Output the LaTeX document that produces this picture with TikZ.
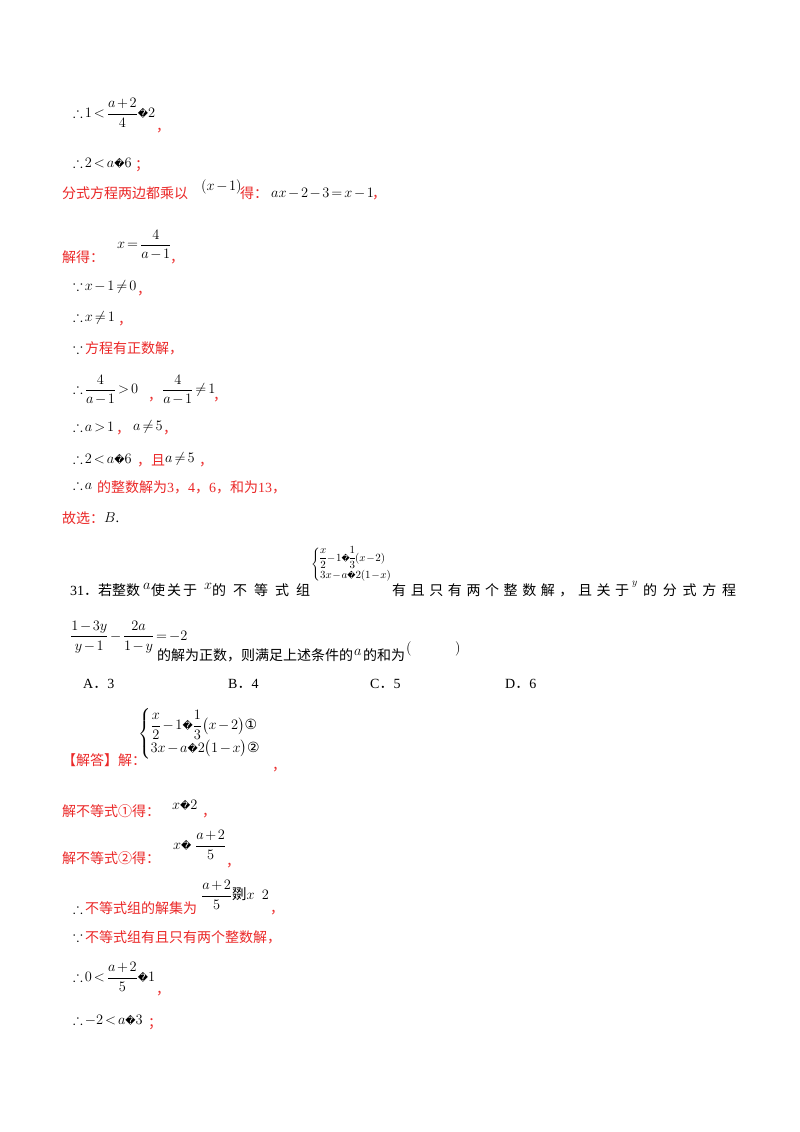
\documentclass[tikz,border=0pt]{standalone}
\usepackage{amsmath,amssymb,graphicx}
\usepackage{fontspec}
\setmainfont{Liberation Serif}
\newfontfamily\cjk{Noto Sans CJK SC}
\newfontfamily\dv{DejaVu Sans}
\definecolor{mred}{RGB}{235,40,40}
\newcommand{\rp}{\text{\dv\fontsize{10}{10}\selectfont �}}
\newcommand{\rps}{\text{\dv\fontsize{8}{8}\selectfont �}}
\newcommand{\cn}[1]{{\cjk #1}}
\newcommand{\spr}[2]{\makebox[#1][s]{#2}}
\newcommand{\tight}{\thinmuskip=1mu\medmuskip=2mu\thickmuskip=2.5mu}
\newcommand{\vtight}{\thinmuskip=0mu\medmuskip=1mu\thickmuskip=1.5mu\nulldelimiterspace=0pt}
\begin{document}
\begin{tikzpicture}[x=1pt,y=-1pt,
  t/.style={anchor=base west,inner sep=0pt,font=\fontsize{14}{16}\selectfont},
  r/.style={t,text=mred},
  m/.style={anchor=west,inner sep=0pt,font=\fontsize{14.5}{16}\selectfont\tight}]
\useasboundingbox (0,0) rectangle (800,1132);
\fill[white] (0,0) rectangle (800,1132);
\node[m] (l1) at (73,113) {$\therefore 1<\dfrac{a+2}{4}\rp 2$};
\node[r] (c1) at (156,131) {\cn{，}};
\node[m] (l2) at (73,163) {$\therefore 2<a\rp 6$};
\node[r] (c2) at (135,169) {\cn{；}};
\node[r] (l3) at (62,198) {\cn{分式方程两边都乘以}};
\node[m] (l3b) at (201,187) {$(x-1)$};
\node[r] (l3c) at (240,198) {\cn{得：}};
\node[m] (l3d) at (271,193) {$ax-2-3=x-1$};
\node[r] (l3e) at (372,198) {\cn{，}};
\node[r] (l4) at (62,262) {\cn{解得：}};
\node[m] (l4b) at (117,245) {$x=\dfrac{4}{a-1}$};
\node[r] (l4c) at (170,262) {\cn{，}};
\node[m] (l5) at (73,287) {$\because x-1\neq 0$};
\node[r] (l5c) at (137,294) {\cn{，}};
\node[m] (l6) at (73,318) {$\therefore x\neq 1$};
\node[r] (l6c) at (118,324) {\cn{，}};
\node[m] (l7) at (73,348) {$\because$};
\node[r] (l7b) at (85,353) {\cn{方程有正数解，}};
\node[m] (l8) at (73,390) {$\therefore \dfrac{4}{a-1}>0$};
\node[r] (l8b) at (148,400) {\cn{，}};
\node[m] (l8c) at (162,390) {$\dfrac{4}{a-1}\neq 1$};
\node[r] (l8d) at (213,400) {\cn{，}};
\node[m] (l9) at (73,427) {$\therefore a>1$};
\node[r] (l9b) at (116,433) {\cn{，}};
\node[m] (l9c) at (133,427) {$a\neq 5$};
\node[r] (l9d) at (163,433) {\cn{，}};
\node[m] (l10) at (73,459) {$\therefore 2<a\rp 6$};
\node[r] (l10b) at (137,465) {\cn{，且}};
\node[m] (l10c) at (165,459) {$a\neq 5$};
\node[r] (l10d) at (199,465) {\cn{，}};
\node[m] (l11) at (73,484) {$\therefore a$};
\node[r] (l11b) at (97,492) {\cn{的整数解为}3\cn{，}4\cn{，}6\cn{，和为}13\cn{，}};
\node[r] (l12) at (62,523) {\cn{故选：}};
\node[m] (l12b) at (104,518) {$B$.};
\node[t] (q1) at (70,595) {31\cn{．}\cn{若整数}};
\node[m] (q1a) at (143,586) {$a$};
\node[t] (q1b) at (151,595) {\cn{\spr{46pt}{使\hfill 关\hfill 于}}};
\node[m] (q1x) at (204,586) {$x$};
\node[t] (q1c) at (212,595) {\cn{\spr{98pt}{的\hfill 不\hfill 等\hfill 式\hfill 组}}};
\node[anchor=west,inner sep=0pt,font=\fontsize{11}{12}\selectfont\vtight] (sys1) at (311,565) {$\begin{cases}\dfrac{x}{2}-1\rps\dfrac{1}{3}(x-2)\\[0pt] 3x-a\rps 2(1-x)\end{cases}$};
\node[t] (q1d) at (392,595) {\cn{\spr{237pt}{有\hfill 且\hfill 只\hfill 有\hfill 两\hfill 个\hfill 整\hfill 数\hfill 解\hfill ，\hfill 且\hfill 关\hfill 于}}};
\node[m] (q1y) at (632,584) {\fontsize{10}{12}\selectfont$y$};
\node[t] (q1e) at (643,595) {\cn{\spr{93pt}{的\hfill 分\hfill 式\hfill 方\hfill 程}}};
\node[m] (q2) at (70,637) {\fontsize{13.5}{15}\selectfont$\dfrac{1-3y}{y-1}-\dfrac{2a}{1-y}=-2$};
\node[t] (q2b) at (157,660) {\cn{的解为正数，则满足上述条件的}};
\node[m] (q2c) at (354,652) {$a$};
\node[t] (q2d) at (363,660) {\cn{的和为}};
\node[m] (q2e) at (406,649) {$(\qquad\quad)$};
\node[t] (oA) at (83,688) {A\cn{．}3};
\node[t] (oB) at (228,688) {B\cn{．}4};
\node[t] (oC) at (370,688) {C\cn{．}5};
\node[t] (oD) at (505,688) {D\cn{．}6};
\node[r] (s0) at (62,765) {\cn{【解答】解：}};
\node[m] (sys2) at (138,734) {\fontsize{14}{15}\selectfont$\begin{cases}\dfrac{x}{2}-1\rp\dfrac{1}{3}\bigl(x-2\bigr)\text{\dv ①}\\[3pt] 3x-a\rp 2\bigl(1-x\bigr)\text{\dv ②}\end{cases}$};
\node[r] (s0b) at (272,770) {\cn{，}};
\node[r] (s1) at (62,816) {\cn{解不等式①得：}};
\node[m] (s1b) at (172,805) {$x\rp 2$};
\node[r] (s1c) at (202,816) {\cn{，}};
\node[r] (s2) at (62,863) {\cn{解不等式②得：}};
\node[m] (s2b) at (173,845) {$x\rp\ \dfrac{a+2}{5}$};
\node[r] (s2c) at (226,866) {\cn{，}};
\node[m] (s3) at (73,908) {$\therefore$};
\node[r] (s3b) at (85,913) {\cn{不等式组的解集为}};
\node[m] (s3c) at (201,895) {$\dfrac{a+2}{5}$\cn{剟}$x\ \ 2$};
\node[r] (s3d) at (270,913) {\cn{，}};
\node[m] (s4) at (73,936) {$\because$};
\node[r] (s4b) at (85,942) {\cn{不等式组有且只有两个整数解，}};
\node[m] (s5) at (73,977) {$\therefore 0<\dfrac{a+2}{5}\rp 1$};
\node[r] (s5b) at (156,994) {\cn{，}};
\node[m] (s6) at (73,1020) {$\therefore -2<a\rp 3$};
\node[r] (s6b) at (148,1027) {\cn{；}};
\end{tikzpicture}
\end{document}
